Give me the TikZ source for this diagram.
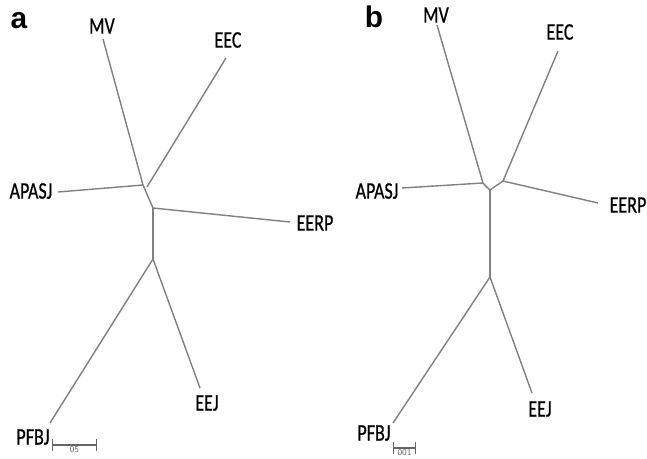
\documentclass[tikz,border=0pt]{standalone}
\usepackage{fontspec}
\usepackage{tikz}
\usetikzlibrary{positioning}
\newfontfamily\taxfont[FakeStretch=0.76,FakeBold=0.6]{Carlito}
\newfontfamily\panelfont{Liberation Sans}

\begin{document}
\begin{tikzpicture}[x=0.02cm,y=-0.02cm,
  branch/.style={draw=black!50,line width=0.8pt},
  taxon/.style={font=\taxfont\fontsize{13.5}{15}\selectfont,inner sep=0pt},
  panel/.style={font=\panelfont\bfseries\fontsize{17}{19}\selectfont,inner sep=0pt},
  scalebar/.style={draw=black!60,line width=0.6pt,|-|,>=stealth},
  scaletext/.style={font=\sffamily\fontsize{5}{6}\selectfont,text=black!60,inner sep=0pt}]
  \useasboundingbox (0,0) rectangle (647,458);

  \node[panel] (pa) at (19,21) {a};
  \coordinate (a1) at (143,185);
  \coordinate (a2) at (153,208);
  \coordinate (a3) at (153,259);
  \coordinate (aMV) at (103,39);
  \coordinate (aEEC) at (226,58);
  \coordinate (aAPASJ) at (58,192);
  \coordinate (aEERP) at (290,222);
  \coordinate (aPFBJ) at (50,423);
  \coordinate (aEEJ) at (200,388);
  \node[taxon] (aMVl) at (102,26) {MV};
  \node[taxon] (aEECl) at (228,40) {EEC};
  \node[taxon] (aAPASJl) at (31,191) {APASJ};
  \node[taxon] (aEERPl) at (315,223) {EERP};
  \node[taxon] (aPFBJl) at (33,437) {PFBJ};
  \node[taxon] (aEEJl) at (207,403) {EEJ};
  \path[branch] (a1) edge (aMV)
                     edge (aAPASJ)
                     edge (a2)
                (a2) edge (aEERP)
                     edge (a3)
                (a3) edge (aPFBJ)
                     edge (aEEJ);
  \path[branch] (aEEC) edge (147,187);
  \coordinate (asL) at (52,445);
  \coordinate (asR) at (97,445);
  \draw[scalebar] (asL) -- (asR);
  \node[scaletext,below=0.5pt of asL,xshift=0.45cm] (asl) {05};

  \node[panel] (pb) at (374,17) {b};
  \coordinate (b1) at (483,183);
  \coordinate (b2) at (490,190);
  \coordinate (b3) at (503,181);
  \coordinate (b4) at (490,277);
  \coordinate (bMV) at (437,25);
  \coordinate (bEEC) at (558,51);
  \coordinate (bAPASJ) at (402,188);
  \coordinate (bEERP) at (598,203);
  \coordinate (bPFBJ) at (393,423);
  \coordinate (bEEJ) at (532,393);
  \node[taxon] (bMVl) at (436,15) {MV};
  \node[taxon] (bEECl) at (560,32) {EEC};
  \node[taxon] (bAPASJl) at (377,191) {APASJ};
  \node[taxon] (bEERPl) at (628,205) {EERP};
  \node[taxon] (bPFBJl) at (374,433) {PFBJ};
  \node[taxon] (bEEJl) at (540,409) {EEJ};
  \path[branch] (b1) edge (bMV)
                     edge (bAPASJ)
                     edge (b2)
                (b2) edge (b3)
                     edge (b4)
                (b3) edge (bEEC)
                     edge (bEERP)
                (b4) edge (bPFBJ)
                     edge (bEEJ);
  \coordinate (bsL) at (393,448);
  \coordinate (bsR) at (416,448);
  \draw[scalebar] (bsL) -- (bsR);
  \node[scaletext,below=0.5pt of bsL,xshift=0.23cm] (bsl) {001};
\end{tikzpicture}
\end{document}
